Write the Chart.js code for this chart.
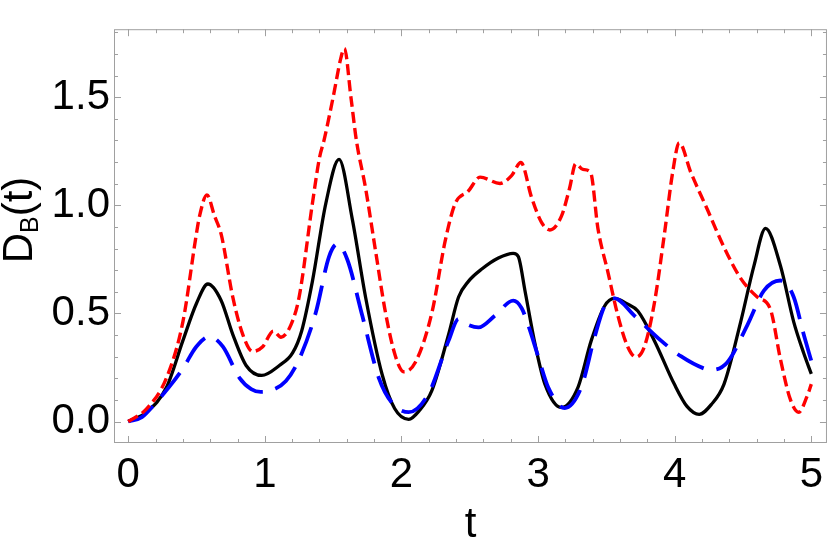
<!DOCTYPE html>
<html>
<head>
<meta charset="utf-8">
<script src="https://cdn.jsdelivr.net/npm/chart.js@4.4.0/dist/chart.umd.min.js"></script>
<style>
  body{margin:0;background:#fff;}
  #wrap{width:830px;height:542px;}
</style>
</head>
<body>
<div id="wrap"><canvas id="chart" width="830" height="542"></canvas></div>
<script>
// ====== DATA ======
const xTicks=[0,1,2,3,4,5];
const yTicks=[0,0.5,1,1.5];

const tBlack=[0,0.134,0.28,0.40,0.50,0.583,0.68,0.765,0.863,0.977,1.106,1.203,1.27,1.348,1.446,1.543,1.64,1.737,1.859,1.95,2.053,2.13,2.223,2.345,2.418,2.49,2.588,2.709,2.818,2.855,2.904,2.977,3.05,3.171,3.292,3.389,3.486,3.559,3.65,3.73,3.851,3.997,4.09,4.179,4.27,4.361,4.483,4.58,4.665,4.774,4.871,4.944,5.0];
const dBlack=[0,0.043,0.158,0.374,0.547,0.636,0.56,0.403,0.259,0.213,0.259,0.317,0.42,0.648,1.008,1.212,0.936,0.576,0.216,0.06,0.01,0.05,0.144,0.403,0.576,0.648,0.705,0.756,0.778,0.763,0.605,0.36,0.173,0.065,0.158,0.374,0.533,0.569,0.545,0.511,0.374,0.173,0.07,0.033,0.08,0.173,0.461,0.72,0.893,0.72,0.461,0.317,0.22];

const tBlue=[0,0.1,0.2,0.30,0.40,0.498,0.595,0.693,0.814,0.90,0.97,1.05,1.154,1.251,1.373,1.47,1.531,1.604,1.713,1.834,1.931,2.053,2.199,2.345,2.418,2.48,2.563,2.685,2.818,2.879,2.928,3.0,3.074,3.195,3.316,3.413,3.486,3.559,3.704,3.9,4.045,4.215,4.264,4.386,4.531,4.653,4.774,4.871,4.944,5.0];
const dBlue=[0,0.02,0.086,0.16,0.245,0.346,0.393,0.346,0.202,0.15,0.137,0.145,0.187,0.288,0.504,0.763,0.821,0.748,0.49,0.202,0.086,0.043,0.13,0.374,0.475,0.45,0.435,0.49,0.559,0.525,0.445,0.302,0.158,0.062,0.158,0.389,0.533,0.569,0.49,0.374,0.302,0.245,0.238,0.274,0.445,0.605,0.652,0.576,0.403,0.28];

const tRed=[0,0.134,0.28,0.40,0.498,0.522,0.576,0.632,0.681,0.765,0.838,0.911,0.984,1.062,1.118,1.191,1.251,1.348,1.40,1.433,1.50,1.558,1.582,1.63,1.67,1.737,1.81,1.883,1.956,2.017,2.102,2.223,2.32,2.393,2.49,2.575,2.721,2.806,2.874,2.952,3.025,3.086,3.171,3.231,3.275,3.328,3.384,3.438,3.511,3.584,3.656,3.717,3.778,3.851,3.924,3.985,4.033,4.118,4.24,4.361,4.483,4.604,4.701,4.774,4.847,4.908,4.968,5.0];
const dRed=[0,0.058,0.202,0.461,0.864,0.95,1.048,0.95,0.864,0.576,0.403,0.324,0.346,0.418,0.39,0.447,0.576,1.008,1.22,1.30,1.50,1.685,1.725,1.50,1.30,1.08,0.79,0.504,0.302,0.23,0.274,0.504,0.835,1.008,1.066,1.13,1.101,1.137,1.198,1.037,0.921,0.886,0.95,1.08,1.192,1.166,1.152,0.893,0.691,0.49,0.346,0.298,0.346,0.547,0.864,1.152,1.289,1.152,0.979,0.806,0.662,0.576,0.518,0.288,0.101,0.043,0.115,0.173];

// ====== STYLE ======
const FONT='"Liberation Sans", Arial, sans-serif';
const frameColor='#a0a0a0';

function pts(ts,vs){ return ts.map((t,i)=>({x:t,y:vs[i]})); }

// frame with inward ticks on all four sides, plus axis titles
const framePlugin={
  id:'frame',
  beforeDatasetsDraw(chart){
    const {ctx,chartArea:a,scales:{x,y}}=chart;
    ctx.save();
    ctx.strokeStyle=frameColor;
    ctx.lineWidth=1;
    ctx.strokeRect(a.left+0.5,a.top+0.5,a.right-a.left-1,a.bottom-a.top-1);
    const xStep=(xTicks[1]-xTicks[0])/5, yStep=(yTicks[1]-yTicks[0])/5;
    ctx.beginPath();
    for(let i=Math.ceil(x.min/xStep);i<=Math.floor(x.max/xStep);i++){
      const px=Math.round(x.getPixelForValue(i*xStep))+0.5;
      const len=(i%5===0)?7:4;
      ctx.moveTo(px,a.bottom); ctx.lineTo(px,a.bottom-len);
      ctx.moveTo(px,a.top); ctx.lineTo(px,a.top+len);
    }
    for(let i=Math.ceil(y.min/yStep);i<=Math.floor(y.max/yStep);i++){
      const py=Math.round(y.getPixelForValue(i*yStep))+0.5;
      const len=(i%5===0)?7:4;
      ctx.moveTo(a.left,py); ctx.lineTo(a.left+len,py);
      ctx.moveTo(a.right,py); ctx.lineTo(a.right-len,py);
    }
    ctx.stroke();
    ctx.restore();
  },
  afterDraw(chart){
    const {ctx,chartArea:a}=chart;
    ctx.save();
    ctx.fillStyle='#000';
    // x title
    ctx.font='42px '+FONT;
    ctx.textAlign='center';
    ctx.textBaseline='alphabetic';
    ctx.fillText('t',(a.left+a.right)/2,537);
    // y title D_B(t), rotated
    ctx.translate(32,220);
    ctx.rotate(-Math.PI/2);
    ctx.textAlign='left';
    const big='42px '+FONT, small='25px '+FONT;
    ctx.font=big; const wD=ctx.measureText('D').width, wP=ctx.measureText('(t)').width;
    ctx.font=small; const wB=ctx.measureText('B').width;
    let s=-(wD+wB+wP)/2;
    ctx.font=big; ctx.fillText('D',s,0); s+=wD;
    ctx.font=small; ctx.fillText('B',s,6); s+=wB;
    ctx.font=big; ctx.fillText('(t)',s,0);
    ctx.restore();
  }
};

// ====== CHART ======
new Chart(document.getElementById('chart'),{
  type:'line',
  data:{datasets:[
    {label:'red',data:pts(tRed,dRed),borderColor:'#ff0000',borderWidth:3.4,borderDash:[11,5],cubicInterpolationMode:'monotone',pointRadius:0},
    {label:'blue',data:pts(tBlue,dBlue),borderColor:'#0000ff',borderWidth:3.8,borderDash:[30,13],cubicInterpolationMode:'monotone',pointRadius:0},
    {label:'black',data:pts(tBlack,dBlack),borderColor:'#000000',borderWidth:3.3,cubicInterpolationMode:'monotone',pointRadius:0}
  ]},
  options:{
    responsive:false,
    animation:false,
    devicePixelRatio:1,
    layout:{padding:0},
    plugins:{legend:{display:false},tooltip:{enabled:false}},
    scales:{
      x:{
        type:'linear',min:-0.1042,max:5.1145,
        grid:{display:false,drawTicks:false},border:{display:false},
        afterBuildTicks:s=>{s.ticks=xTicks.map(v=>({value:v}));},
        afterFit:s=>{s.height=99;},
        ticks:{color:'#000',font:{family:FONT,size:42},padding:7,maxRotation:0,callback:v=>String(v)}
      },
      y:{
        type:'linear',min:-0.0994,max:1.8143,
        grid:{display:false,drawTicks:false},border:{display:false},
        afterBuildTicks:s=>{s.ticks=yTicks.map(v=>({value:v}));},
        afterFit:s=>{s.width=114;},
        ticks:{color:'#000',font:{family:FONT,size:42},padding:4,callback:v=>v.toFixed(1)}
      }
    }
  },
  plugins:[framePlugin]
});
</script>
</body>
</html>
